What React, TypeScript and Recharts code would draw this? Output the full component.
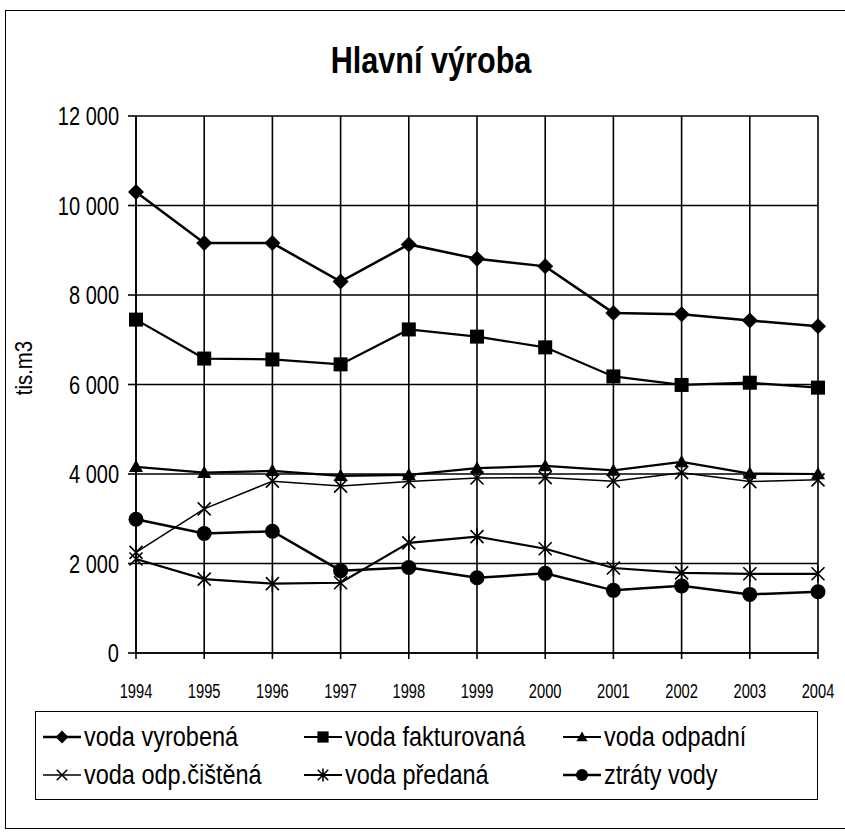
import React from 'react';
import { LineChart, Line, XAxis, YAxis, CartesianGrid } from 'recharts';

const years = ['1994', '1995', '1996', '1997', '1998', '1999', '2000', '2001', '2002', '2003', '2004'];
const vyrobena = [10300, 9160, 9160, 8300, 9130, 8810, 8640, 7600, 7570, 7430, 7300];
const fakturovana = [7450, 6580, 6560, 6450, 7230, 7070, 6830, 6180, 5990, 6040, 5930];
const odpadni = [4160, 4030, 4070, 3960, 3980, 4130, 4180, 4080, 4270, 4010, 4000];
const cistena = [2250, 3220, 3840, 3730, 3830, 3910, 3920, 3840, 4030, 3830, 3870];
const predana = [2100, 1650, 1550, 1570, 2460, 2600, 2330, 1900, 1790, 1770, 1770];
const ztraty = [2990, 2670, 2720, 1840, 1910, 1680, 1780, 1400, 1500, 1310, 1370];
const yTicks = [0, 2000, 4000, 6000, 8000, 10000, 12000];

const data = years.map((year, i) => ({
  year,
  vyrobena: vyrobena[i],
  fakturovana: fakturovana[i],
  odpadni: odpadni[i],
  cistena: cistena[i],
  predana: predana[i],
  ztraty: ztraty[i],
}));

// Arial Narrow look-alike: Liberation Sans squeezed horizontally
const FONT = "'Liberation Sans', Arial, sans-serif";

type MarkerKind = 'diamond' | 'square' | 'triangle' | 'x' | 'star' | 'circle';

const series: { key: string; name: string; marker: MarkerKind; width: number }[] = [
  { key: 'vyrobena', name: 'voda vyrobená', marker: 'diamond', width: 2.5 },
  { key: 'fakturovana', name: 'voda fakturovaná', marker: 'square', width: 2.2 },
  { key: 'odpadni', name: 'voda odpadní', marker: 'triangle', width: 2.2 },
  { key: 'cistena', name: 'voda odp.čištěná', marker: 'x', width: 1.5 },
  { key: 'predana', name: 'voda předaná', marker: 'star', width: 2.2 },
  { key: 'ztraty', name: 'ztráty vody', marker: 'circle', width: 2.5 },
];

// legend entry slots: column left edge, row
const legendPos = [
  { x: 42, row: 0 },
  { x: 303, row: 0 },
  { x: 562, row: 0 },
  { x: 42, row: 1 },
  { x: 303, row: 1 },
  { x: 562, row: 1 },
];

function Marker({ kind, cx, cy, s = 1 }: { kind: MarkerKind; cx: number; cy: number; s?: number }) {
  if (kind === 'diamond') {
    const r = 8 * s;
    return <polygon points={`${cx},${cy - r} ${cx + r},${cy} ${cx},${cy + r} ${cx - r},${cy}`} fill="#000" />;
  }
  if (kind === 'square') {
    const r = 7 * s;
    return <rect x={cx - r} y={cy - r} width={r * 2} height={r * 2} fill="#000" />;
  }
  if (kind === 'triangle') {
    const r = 7 * s;
    return <polygon points={`${cx},${cy - r} ${cx + r},${cy + r * 0.75} ${cx - r},${cy + r * 0.75}`} fill="#000" />;
  }
  if (kind === 'x') {
    const r = 6.5 * s;
    return (
      <path d={`M${cx - r},${cy - r}L${cx + r},${cy + r}M${cx - r},${cy + r}L${cx + r},${cy - r}`} stroke="#000" strokeWidth={1.6} />
    );
  }
  if (kind === 'star') {
    const r = 6.5 * s;
    return (
      <path
        d={`M${cx - r},${cy - r}L${cx + r},${cy + r}M${cx - r},${cy + r}L${cx + r},${cy - r}M${cx},${cy - r * 1.25}L${cx},${cy + r * 1.25}`}
        stroke="#000"
        strokeWidth={1.6}
      />
    );
  }
  return <circle cx={cx} cy={cy} r={7.5 * s} fill="#000" />;
}

const dotFor = (kind: MarkerKind) => (p: any) => (
  <g key={`${kind}-${p.index}`}>
    <Marker kind={kind} cx={p.cx} cy={p.cy} />
  </g>
);

const fmt = (v: number) => (v >= 1000 ? `${Math.floor(v / 1000)} ${String(v % 1000).padStart(3, '0')}` : String(v));

function YTick({ x, y, payload }: any) {
  return (
    <g transform={`translate(${x},${y})`}>
      <text textAnchor="end" dy="0.36em" transform="scale(0.8,1)" fill="#000" fontSize={25} fontFamily={FONT}>
        {fmt(payload.value)}
      </text>
    </g>
  );
}

function XTick({ x, y, payload }: any) {
  return (
    <g transform={`translate(${x},${y})`}>
      <text textAnchor="middle" dy="0.72em" transform="scale(0.7,1)" fill="#000" fontSize={21} fontFamily={FONT}>
        {payload.value}
      </text>
    </g>
  );
}

export default function App() {
  return (
    <div style={{ position: 'absolute', left: 0, top: 0, width: 845, height: 832, background: '#fff', fontFamily: FONT }}>
      <div
        style={{
          position: 'absolute',
          left: 5,
          top: 10,
          width: 845,
          height: 817,
          borderTop: '1.5px solid #000',
          borderLeft: '1.5px solid #000',
          borderBottom: '1.5px solid #000',
        }}
      />
      <div style={{ position: 'absolute', left: 0, width: 862, top: 40, textAlign: 'center', color: '#000' }}>
        <span style={{ display: 'inline-block', fontSize: 36, fontWeight: 'bold', transform: 'scaleX(0.85)' }}>
          Hlavní výroba
        </span>
      </div>
      <div
        style={{
          position: 'absolute',
          left: 24,
          top: 368,
          transform: 'translate(-50%, -50%) rotate(-90deg) scaleX(0.85)',
          fontSize: 24,
          color: '#000',
          whiteSpace: 'nowrap',
        }}
      >
        tis.m3
      </div>
      <div style={{ position: 'absolute', left: 0, top: 0 }}>
        <LineChart width={845} height={832} data={data} margin={{ top: 116, right: 27, bottom: 149, left: 0 }}>
          <CartesianGrid stroke="#000" strokeWidth={1.6} />
          <XAxis
            dataKey="year"
            stroke="#000"
            strokeWidth={1.6}
            tickSize={6}
            tickMargin={24}
            height={30}
            interval={0}
            tick={<XTick />}
          />
          <YAxis
            domain={[0, 12000]}
            ticks={yTicks}
            width={136}
            stroke="#000"
            strokeWidth={1.6}
            tickSize={8}
            tickMargin={9}
            tick={<YTick />}
          />
          {series.map((s) => (
            <Line
              key={s.key}
              dataKey={s.key}
              name={s.name}
              stroke="#000"
              strokeWidth={s.width}
              dot={dotFor(s.marker)}
              isAnimationActive={false}
            />
          ))}
        </LineChart>
      </div>
      <div
        style={{
          position: 'absolute',
          left: 35,
          top: 711,
          width: 783,
          height: 89,
          border: '1.5px solid #000',
          boxSizing: 'border-box',
        }}
      >
        {series.map((s, i) => (
          <div
            key={s.key}
            style={{
              position: 'absolute',
              left: legendPos[i].x - 35,
              top: legendPos[i].row === 0 ? 10 : 48,
              display: 'flex',
              alignItems: 'center',
              height: 30,
              color: '#000',
              whiteSpace: 'nowrap',
            }}
          >
            <svg width={38} height={20} style={{ marginRight: 3 }}>
              <line x1={0} y1={10} x2={38} y2={10} stroke="#000" strokeWidth={s.width} />
              <Marker kind={s.marker} cx={19} cy={10} s={0.8} />
            </svg>
            <span style={{ display: 'inline-block', fontSize: 27, transform: 'scaleX(0.87)', transformOrigin: 'left center' }}>
              {s.name}
            </span>
          </div>
        ))}
      </div>
    </div>
  );
}
